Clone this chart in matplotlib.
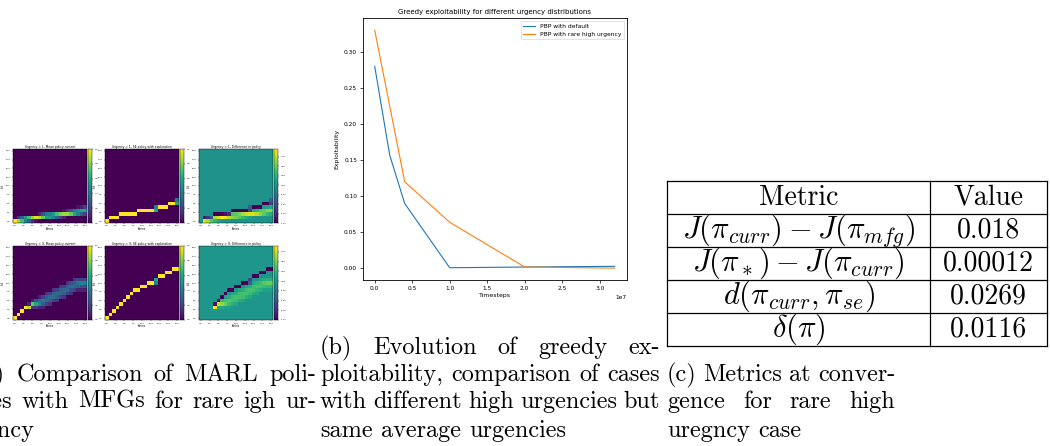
import numpy as np
import matplotlib.pyplot as plt

plt.rcParams['mathtext.fontset'] = 'cm'

# page size in pixels (dpi 100)
W, H = 1050, 446

# (a) bid policies, one dict per karma level: {bid: probability}
karma = np.arange(21)
bid_levels = np.arange(21)

mean_u1 = [
    {0: 1.0}, {0: 0.85, 1: 0.15}, {0: 0.7, 1: 0.3}, {0: 0.45, 1: 0.55},
    {0: 0.3, 1: 0.7}, {0: 0.15, 1: 0.85}, {0: 0.05, 1: 0.95}, {1: 0.9, 2: 0.1},
    {1: 0.75, 2: 0.25}, {1: 0.6, 2: 0.4}, {1: 0.55, 2: 0.45}, {1: 0.45, 2: 0.55},
    {1: 0.3, 2: 0.7}, {1: 0.2, 2: 0.8}, {1: 0.1, 2: 0.85, 3: 0.05}, {2: 0.85, 3: 0.15},
    {2: 0.75, 3: 0.25}, {2: 0.6, 3: 0.4}, {2: 0.45, 3: 0.5, 4: 0.05},
    {2: 0.3, 3: 0.6, 4: 0.1}, {2: 0.2, 3: 0.6, 4: 0.2},
]
se_u1 = [
    {0: 1.0}, {1: 1.0}, {1: 1.0}, {1: 1.0}, {2: 1.0}, {2: 1.0}, {2: 1.0},
    {2: 1.0}, {2: 1.0}, {3: 1.0}, {3: 1.0}, {3: 1.0}, {3: 1.0}, {3: 1.0},
    {3: 0.6, 4: 0.4}, {4: 1.0}, {4: 1.0}, {4: 1.0}, {5: 1.0}, {5: 1.0},
    {5: 0.6, 6: 0.4},
]
mean_u9 = [
    {0: 1.0}, {1: 1.0}, {2: 1.0}, {3: 1.0}, {3: 0.9, 4: 0.1},
    {3: 0.15, 4: 0.75, 5: 0.1}, {3: 0.15, 4: 0.6, 5: 0.25},
    {3: 0.1, 4: 0.45, 5: 0.35, 6: 0.1}, {3: 0.1, 4: 0.3, 5: 0.4, 6: 0.2},
    {4: 0.2, 5: 0.35, 6: 0.3, 7: 0.15}, {4: 0.15, 5: 0.3, 6: 0.35, 7: 0.2},
    {5: 0.2, 6: 0.35, 7: 0.3, 8: 0.15}, {5: 0.15, 6: 0.3, 7: 0.35, 8: 0.2},
    {6: 0.2, 7: 0.35, 8: 0.3, 9: 0.15}, {6: 0.15, 7: 0.3, 8: 0.35, 9: 0.2},
    {7: 0.2, 8: 0.35, 9: 0.3, 10: 0.15}, {7: 0.15, 8: 0.25, 9: 0.35, 10: 0.25},
    {8: 0.2, 9: 0.35, 10: 0.3, 11: 0.15}, {8: 0.1, 9: 0.3, 10: 0.4, 11: 0.2},
    {8: 0.1, 9: 0.25, 10: 0.45, 11: 0.2}, {8: 0.1, 9: 0.25, 10: 0.45, 11: 0.2},
]
se_u9 = [
    {0: 1.0}, {1: 1.0}, {2: 1.0}, {3: 1.0}, {4: 1.0}, {5: 1.0}, {6: 1.0},
    {7: 1.0}, {8: 1.0}, {8: 1.0}, {9: 1.0}, {9: 1.0}, {10: 1.0}, {10: 1.0},
    {10: 0.4, 11: 0.6}, {12: 1.0}, {12: 1.0}, {13: 1.0}, {13: 1.0},
    {14: 1.0}, {14: 1.0},
]

# (b) greedy exploitability
steps_default = [0.0, 0.2e7, 0.4e7, 1.0e7, 2.0e7, 3.2e7]
expl_default = [0.28, 0.157, 0.09, 0.001, 0.002, 0.003]
steps_rare = [0.0, 0.4e7, 1.0e7, 2.0e7, 3.2e7]
expl_rare = [0.33, 0.12, 0.064, 0.002, 0.0005]
series_labels = ['PBP with default', 'PBP with rare high urgency']

# (c) metrics at convergence
metric_names = [r'$J(\pi_{curr}) - J(\pi_{mfg})$', r'$J(\pi_*) - J(\pi_{curr})$',
                r'$d(\pi_{curr}, \pi_{se})$', r'$\delta(\pi)$']
metric_values = ['0.018', '0.00012', '0.0269', '0.0116']


def box(x0, y0, x1, y1):
    return [x0 / W, 1 - y1 / H, (x1 - x0) / W, (y1 - y0) / H]


def to_grid(cols):
    g = np.zeros((len(bid_levels), len(karma)))
    for k, col in enumerate(cols):
        for b, p in col.items():
            g[b, k] = p
    return g


fig = plt.figure(figsize=(W / 100, H / 100), dpi=100)

# ---- heatmaps: mean policy, SE policy, difference
rows = [('Urgency = 1', mean_u1, se_u1, 149, 223),
        ('Urgency = 9', mean_u9, se_u9, 246, 320)]
col_x = [13, 105, 199]
names = ['Mean policy current', 'SE policy with exploration', 'Difference in policy']
ticks = np.arange(0, 20.1, 2.5)

for urg, mean, se, y0, y1 in rows:
    m = to_grid(mean)
    s = to_grid(se)
    for x0, data, name in zip(col_x, [m, s, m - s], names):
        ax = fig.add_axes(box(x0, y0, x0 + 74, y1))
        im = ax.imshow(data, origin='lower', cmap='viridis', aspect='auto')
        ax.set_title(f'{urg}, {name}', fontsize=2.2, pad=1)
        ax.set_xticks(ticks)
        ax.set_yticks(ticks)
        ax.set_xticklabels([f'{t:.1f}' for t in ticks])
        ax.set_yticklabels([f'{t:.1f}' for t in ticks])
        ax.tick_params(labelsize=1.6, length=1, width=0.3, pad=0.8)
        ax.set_xlabel('Karma', fontsize=1.8, labelpad=0.5)
        ax.set_ylabel('bid', fontsize=1.8, labelpad=0.5)
        for sp in ax.spines.values():
            sp.set_linewidth(0.3)
        cax = fig.add_axes(box(x0 + 75, y0, x0 + 79, y1))
        cb = fig.colorbar(im, cax=cax)
        if name.startswith('Diff'):
            ct = np.arange(-1.0, 1.01, 0.25)
            ct = ct[(ct >= data.min() - 1e-9) & (ct <= data.max() + 1e-9)]
            cb.set_ticks(ct)
            cb.set_ticklabels([f'{t:.2f}' for t in ct])
        else:
            ct = np.arange(0, 1.01, 0.2)
            cb.set_ticks(ct)
            cb.set_ticklabels([f'{t:.1f}' for t in ct])
        cax.tick_params(labelsize=1.6, length=1, width=0.3, pad=0.8)
        cb.outline.set_linewidth(0.3)

# ---- exploitability curves
ax = fig.add_axes(box(362.7, 18.3, 626.7, 280))
ax.plot(steps_default, expl_default, lw=0.8, label=series_labels[0])
ax.plot(steps_rare, expl_rare, lw=0.8, label=series_labels[1])
ax.set_title('Greedy exploitability for different urgency distributions', fontsize=5.0, pad=3)
ax.set_xlabel('Timesteps', fontsize=4.4, labelpad=1.5)
ax.set_ylabel('Exploitability', fontsize=4.4, labelpad=3)
ax.set_yticks(np.arange(0, 0.31, 0.05))
ax.set_xticks(np.arange(0, 3.01e7, 0.5e7))
ax.tick_params(labelsize=4.2, length=2, width=0.5, pad=2)
ax.xaxis.get_offset_text().set_fontsize(4.2)
for sp in ax.spines.values():
    sp.set_linewidth(0.6)
leg = ax.legend(loc='upper right', fontsize=4.3)
leg.get_frame().set_linewidth(0.5)

# ---- metrics table
tab = fig.add_axes(box(667, 181, 1047, 346))
tab.set_xlim(667, 1047)
tab.set_ylim(346, 181)
tab.axis('off')
row_edges = [181, 214, 247, 280, 313, 346]
col_div = 930
for y in row_edges:
    tab.plot([667, 1047], [y, y], color='black', lw=0.9, clip_on=False)
for x in [667, col_div, 1047]:
    tab.plot([x, x], [181, 346], color='black', lw=0.9, clip_on=False)
TAB = 20
MATH = 22
mid1 = (667 + col_div) / 2
mid2 = (col_div + 1047) / 2
tab.text(mid1, row_edges[1] - 9, 'Metric', fontsize=TAB,
         family='cmr10', ha='center', va='baseline')
tab.text(mid2, row_edges[1] - 9, 'Value', fontsize=TAB,
         family='cmr10', ha='center', va='baseline')
for i, (nm, val) in enumerate(zip(metric_names, metric_values)):
    base = row_edges[i + 2] - 9
    tab.text(mid1, base, nm, fontsize=MATH, ha='center', va='baseline')
    tab.text(mid2, base, val, fontsize=TAB, family='cmr10',
             ha='center', va='baseline')

# ---- captions, justified like the page text
CAP = 17.5
renderer = fig.canvas.get_renderer()


def caption_line(text, x0, x1, base, spread=True):
    words = text.split()
    items = [fig.text(0, 1 - base / H, w, fontsize=CAP, family='cmr10') for w in words]
    widths = [t.get_window_extent(renderer).width for t in items]
    gap = CAP * 100 / 72 * 0.333
    if spread and len(words) > 1:
        gap = (x1 - x0 - sum(widths)) / (len(words) - 1)
    x = x0
    for t, w in zip(items, widths):
        t.set_x(x / W)
        x += w + gap


baselines = [354, 381, 408, 437]
cap_a = ['(a) Comparison of MARL poli-', 'cies with MFGs for rare igh ur-', 'gency']
cap_b = ['(b) Evolution of greedy ex-', 'ploitability, comparison of cases',
         'with different high urgencies but', 'same average urgencies']
cap_c = ['(c) Metrics at conver-', 'gence for rare high', 'uregncy case']

for i, line in enumerate(cap_a):
    caption_line(line, -26, 316, baselines[i + 1], spread=i < len(cap_a) - 1)
for i, line in enumerate(cap_b):
    caption_line(line, 320, 660, baselines[i], spread=i < len(cap_b) - 1)
for i, line in enumerate(cap_c):
    caption_line(line, 667, 895, baselines[i + 1], spread=i < len(cap_c) - 1)

fig.savefig('out.png', dpi=100)
